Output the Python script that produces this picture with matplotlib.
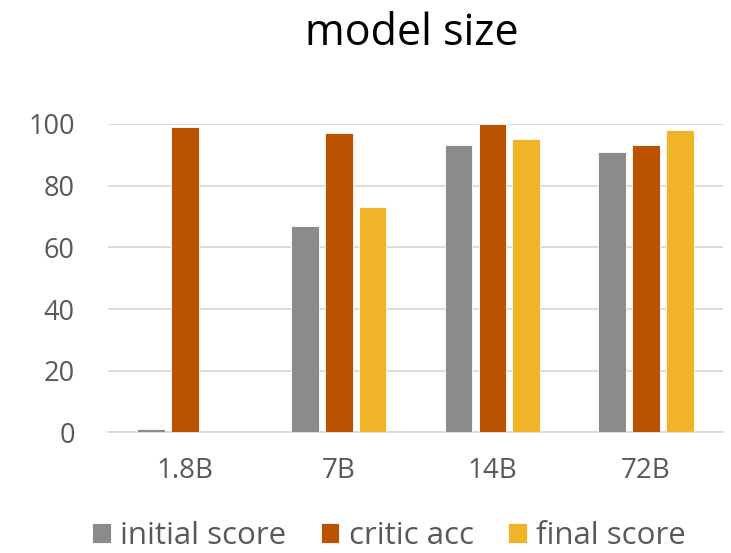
import matplotlib
matplotlib.use("Agg")
import matplotlib.pyplot as plt
import numpy as np

plt.rcParams['font.family'] = ['Open Sans', 'DejaVu Sans']

categories = ["1.8B", "7B", "14B", "72B"]
series_names = ["initial score", "critic acc", "final score"]
initial_score = [1, 67, 93, 91]
critic_acc = [99, 97, 100, 93]
final_score = [0, 73, 95, 98]
y_ticks = [0, 20, 40, 60, 80, 100]

colors = ["#898C8B", "#BB5200", "#F0B428"]
text_color = "#595959"
grid_color = "#D9D9D9"

fig = plt.figure(figsize=(7.31, 5.53), dpi=100)
ax = fig.add_axes([0.148, 0.218, 0.841, 0.558])

x = np.arange(len(categories))
width = 0.18
pitch = 0.22
for i, (vals, name) in enumerate(zip([initial_score, critic_acc, final_score], series_names)):
    ax.bar(x + (i - 1) * pitch, vals, width, color=colors[i], label=name,
           edgecolor="white", linewidth=0.6, zorder=3)

ax.set_xlim(-0.5, len(categories) - 0.5)
ax.set_ylim(0, 100)
ax.set_yticks(y_ticks)
ax.set_xticks(x)
ax.set_xticklabels(categories)
ax.yaxis.grid(True, color=grid_color, linewidth=1.3, zorder=0)
ax.tick_params(axis="y", length=0, labelsize=19.5, colors=text_color, pad=24)
ax.tick_params(axis="x", length=0, labelsize=20, colors=text_color, pad=18)
for side in ["top", "right", "left"]:
    ax.spines[side].set_visible(False)
ax.spines["bottom"].set_color(grid_color)
ax.spines["bottom"].set_linewidth(1.3)
ax.set_axisbelow(True)

fig.text(0.563, 0.919, "model size", ha="center", va="baseline", fontsize=31, color="#000000")

leg = fig.legend(loc="lower center", bbox_to_anchor=(0.532, -0.024), ncol=3, frameon=False,
                 fontsize=22.5, handlelength=0.6, handleheight=0.6, handletextpad=0.3,
                 columnspacing=1.1, labelcolor=text_color, borderpad=0.0)

fig.savefig("out.png", dpi=100)
